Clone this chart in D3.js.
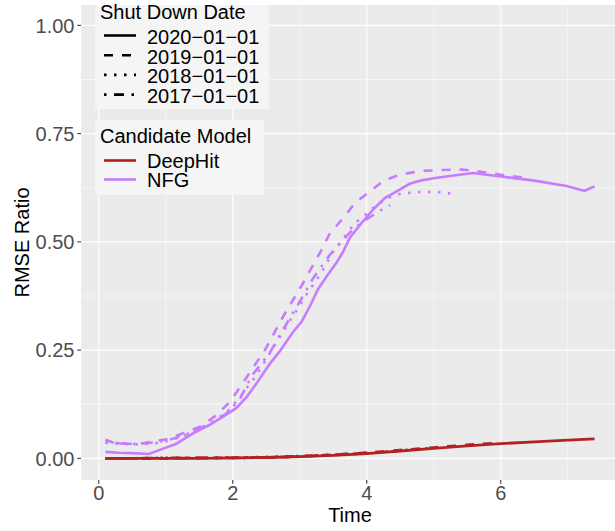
<!DOCTYPE html>
<html><head><meta charset="utf-8">
<script src="https://cdn.jsdelivr.net/npm/d3@7"></script>
<style>body{margin:0;background:#fff;}svg{display:block;font-family:"Liberation Sans",Arial,sans-serif;}</style>
</head><body><svg id="c" width="615" height="531"></svg>
<script>
// ---- data ----
const shutDates = ["2020−01−01","2019−01−01","2018−01−01","2017−01−01"];
const models = ["DeepHit","NFG"];
const xTicks = [0,2,4,6];
const yTicks = [0,0.25,0.5,0.75,1];

const nfgX2020 = [0.1,0.3,0.5,0.75,0.9,1.15,1.4,1.65,1.85,2.05,2.2,2.35,2.55,2.7,2.9,3.03,3.17,3.27,3.4,3.55,3.65,3.75,3.92,4.09,4.27,4.44,4.64,4.82,5.0,5.24,5.59,6.0,6.48,6.98,7.25,7.4];
const nfgY2020 = [0.015,0.013,0.012,0.010,0.019,0.033,0.057,0.077,0.096,0.116,0.140,0.172,0.218,0.247,0.292,0.316,0.357,0.39,0.42,0.452,0.478,0.51,0.543,0.574,0.601,0.616,0.634,0.642,0.647,0.652,0.659,0.651,0.642,0.629,0.618,0.628];

const nfgX2019 = [0.1,0.2,0.36,0.51,0.66,0.81,1.01,1.26,1.51,1.76,1.96,2.15,2.48,2.75,3.05,3.32,3.45,3.65,3.82,4.04,4.27,4.54,4.84,5.14,5.42,5.7,6.0,6.35];
const nfgY2019 = [0.043,0.037,0.035,0.033,0.035,0.039,0.044,0.058,0.073,0.1,0.131,0.174,0.25,0.327,0.405,0.48,0.52,0.555,0.589,0.616,0.643,0.657,0.664,0.666,0.667,0.662,0.655,0.648];

const nfgX2018 = [0.1,0.3,0.5,0.7,0.9,1.1,1.3,1.5,1.7,1.9,2.1,2.34,2.45,2.64,2.88,3.1,3.32,3.5,3.65,3.82,4.04,4.14,4.37,4.52,4.79,5.06,5.22,5.35];
const nfgY2018 = [0.036,0.034,0.032,0.033,0.036,0.043,0.054,0.068,0.085,0.105,0.14,0.189,0.216,0.265,0.324,0.378,0.428,0.478,0.508,0.543,0.57,0.585,0.605,0.612,0.615,0.615,0.612,0.614];

const nfgX2017 = [0.1,0.3,0.5,0.7,0.9,1.1,1.3,1.5,1.7,1.9,2.1,2.28,2.55,2.75,2.97,3.2,3.45,3.65,3.75,3.95,4.1,4.24,4.35];
const nfgY2017 = [0.038,0.035,0.033,0.035,0.038,0.045,0.055,0.068,0.084,0.103,0.135,0.19,0.243,0.297,0.354,0.416,0.47,0.505,0.522,0.548,0.562,0.576,0.585];

const dhX = [0.1,0.5,1,1.5,2,2.5,3,3.5,4,4.5,5,5.5,6,6.5,7,7.4];
const dhY2020 = [0,0,0,0,0.001,0.002,0.004,0.007,0.011,0.017,0.023,0.029,0.034,0.038,0.042,0.045];
const dhY2019 = [0,0,0,0.001,0.001,0.002,0.005,0.008,0.013,0.019,0.025,0.031,0.036];
const dhY2018 = [0,0,0.001,0.001,0.002,0.003,0.005,0.008,0.012,0.018,0.024];
const dhY2017 = [0,0,0.001,0.001,0.001,0.002,0.004,0.008,0.012];

// ---- layout ----
const svg = d3.select("#c");
const P = {l:81, t:5, r:619, b:480};
const x = d3.scaleLinear().domain([-0.265,7.765]).range([P.l,P.r]);
const y = d3.scaleLinear().domain([-0.05,1.047]).range([P.b,P.t]);

const colors = {DeepHit:"#B22222", NFG:"#C77CFF"};
const dashes = ["none","9,9","2.5,7.5","2.5,7.5,10,7.5"];

svg.append("rect").attr("x",P.l).attr("y",P.t).attr("width",615-P.l).attr("height",P.b-P.t).attr("fill","#EBEBEB");
svg.append("clipPath").attr("id","clip").append("rect").attr("x",P.l).attr("y",P.t).attr("width",615-P.l).attr("height",P.b-P.t);
const g = svg.append("g").attr("clip-path","url(#clip)");

// minor grid
const yMinor = [0.125,0.375,0.625,0.875];
const xMinor = [1,3,5,7];
g.selectAll(".ym").data(yMinor).join("line").attr("x1",P.l).attr("x2",615).attr("y1",d=>y(d)).attr("y2",d=>y(d)).attr("stroke","#fff").attr("stroke-width",0.55);
g.selectAll(".xm").data(xMinor).join("line").attr("y1",P.t).attr("y2",P.b).attr("x1",d=>x(d)).attr("x2",d=>x(d)).attr("stroke","#fff").attr("stroke-width",0.55);
// major grid
g.selectAll(".yM").data(yTicks).join("line").attr("x1",P.l).attr("x2",615).attr("y1",d=>y(d)).attr("y2",d=>y(d)).attr("stroke","#fff").attr("stroke-width",1.1);
g.selectAll(".xM").data(xTicks).join("line").attr("y1",P.t).attr("y2",P.b).attr("x1",d=>x(d)).attr("x2",d=>x(d)).attr("stroke","#fff").attr("stroke-width",1.1);

const line = d3.line().x(d=>x(d[0])).y(d=>y(d[1]));
const nfgSeries = [[nfgX2020,nfgY2020],[nfgX2019,nfgY2019],[nfgX2018,nfgY2018],[nfgX2017,nfgY2017]];
const dhSeries = [dhY2020,dhY2019,dhY2018,dhY2017];

// draw in order 2017..2020 so solid is on top
[3,2,1,0].forEach(i=>{
  const pts = dhSeries[i].map((v,k)=>[dhX[k],v]);
  g.append("path").attr("d",line(pts)).attr("fill","none").attr("stroke",colors.DeepHit)
   .attr("stroke-width",2.8).attr("stroke-dasharray",dashes[i]);
});
[3,2,1,0].forEach(i=>{
  const [xs,ys] = nfgSeries[i];
  const pts = xs.map((v,k)=>[v,ys[k]]);
  g.append("path").attr("d",line(pts)).attr("fill","none").attr("stroke",colors.NFG)
   .attr("stroke-width",2.6).attr("stroke-dasharray",dashes[i]);
});

// axes
const yAxis = svg.append("g");
yTicks.forEach(t=>{
  yAxis.append("line").attr("x1",P.l-3.7).attr("x2",P.l).attr("y1",y(t)).attr("y2",y(t)).attr("stroke","#333").attr("stroke-width",1.07);
  yAxis.append("text").attr("x",P.l-6.5).attr("y",y(t)).attr("dy","0.36em").attr("text-anchor","end")
    .attr("font-size",20).attr("fill","#4D4D4D").text(d3.format(".2f")(t));
});
const xAxis = svg.append("g");
xTicks.forEach(t=>{
  xAxis.append("line").attr("y1",P.b).attr("y2",P.b+3.7).attr("x1",x(t)).attr("x2",x(t)).attr("stroke","#333").attr("stroke-width",1.07);
  xAxis.append("text").attr("x",x(t)).attr("y",500).attr("text-anchor","middle")
    .attr("font-size",20).attr("fill","#4D4D4D").text(t);
});
svg.append("text").attr("x",(P.l+P.r)/2).attr("y",522).attr("text-anchor","middle").attr("font-size",20).attr("fill","#000").text("Time");
svg.append("text").attr("transform",`translate(29,${(P.t+P.b)/2}) rotate(-90)`).attr("text-anchor","middle").attr("font-size",20).attr("fill","#000").text("RMSE Ratio");

// legends
const L1 = svg.append("g");
L1.append("rect").attr("x",95).attr("y",5).attr("width",174).attr("height",104).attr("fill","#F5F5F5");
L1.append("text").attr("x",100).attr("y",18.5).attr("font-size",20).attr("fill","#000").text("Shut Down Date");
shutDates.forEach((d,i)=>{
  const by = 44 + i*19.7;
  L1.append("line").attr("x1",104).attr("x2",136).attr("y1",by-8.5).attr("y2",by-8.5)
    .attr("stroke","#000").attr("stroke-width",2.6).attr("stroke-dasharray",dashes[i]);
  L1.append("text").attr("x",147).attr("y",by).attr("font-size",20).attr("fill","#000").text(d);
});
const L2 = svg.append("g");
L2.append("rect").attr("x",95).attr("y",120).attr("width",169).attr("height",75).attr("fill","#F5F5F5");
L2.append("text").attr("x",100).attr("y",143).attr("font-size",20).attr("fill","#000").text("Candidate Model");
models.forEach((m,i)=>{
  const by = 167.5 + i*19;
  L2.append("line").attr("x1",104).attr("x2",136).attr("y1",by-7).attr("y2",by-7)
    .attr("stroke",colors[m]).attr("stroke-width",2.6);
  L2.append("text").attr("x",147).attr("y",by).attr("font-size",20).attr("fill","#000").text(m);
});
</script></body></html>
